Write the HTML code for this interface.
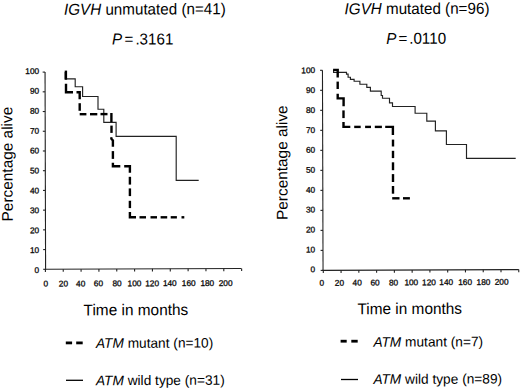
<!DOCTYPE html>
<html><head><meta charset="utf-8"><style>
html,body{margin:0;padding:0;background:#fff;}
body{width:520px;height:390px;overflow:hidden;}
svg{display:block;}
text{font-family:"Liberation Sans",sans-serif;fill:#000;}
.yl{font-size:8.3px;text-anchor:end;stroke:#111;stroke-width:0.3px;}
.xl{font-size:8.3px;text-anchor:middle;stroke:#111;stroke-width:0.3px;}
.t{font-size:15.2px;}
.lg{font-size:13.7px;}
.ax{stroke:#222;stroke-width:1.1;fill:none;}
.tk{stroke:#222;stroke-width:1.1;fill:none;}
.sol{stroke:#222;stroke-width:1.15;fill:none;stroke-linejoin:miter;}
.dsh{stroke:#000;stroke-width:2.4;fill:none;stroke-linejoin:miter;stroke-linecap:butt;}
</style></head><body>
<svg width="520" height="390" viewBox="0 0 520 390">
<text transform="translate(64,14.8) rotate(-0.2) scale(1,1.04)" class="t"><tspan font-style="italic">IGVH</tspan> unmutated (n=41)</text>
<text transform="translate(112,44.6) rotate(-0.2) scale(1,1.04)" class="t"><tspan font-style="italic">P</tspan><tspan x="12.5">=</tspan><tspan x="23.4">.3161</tspan></text>
<text transform="translate(344.6,14.2) rotate(-0.2) scale(1,1.04)" class="t"><tspan font-style="italic">IGVH</tspan> mutated (n=96)</text>
<text transform="translate(386.3,43.9) rotate(-0.2) scale(1,1.04)" class="t"><tspan font-style="italic">P</tspan><tspan x="12.3">=</tspan><tspan x="22.9">.0110</tspan></text>
<text transform="translate(12.7,221.4) rotate(-90) rotate(-0.2) scale(1,1.0)" class="t" style="font-size:15.4px">Percentage alive</text>
<text transform="translate(287.5,220.0) rotate(-90) rotate(-0.2) scale(1,1.0)" class="t" style="font-size:15.4px">Percentage alive</text>
<text transform="translate(83.6,315.4) rotate(-0.2) scale(1,1.02)" class="t" style="font-size:15.4px">Time in months</text>
<text transform="translate(357.4,314.2) rotate(-0.2) scale(1,1.02)" class="t" style="font-size:15.4px">Time in months</text>
<line x1="45.05" y1="72.1" x2="45.6" y2="269.8" class="ax"/>
<line x1="44.9" y1="269.3" x2="241.4" y2="268.5" class="ax"/>
<line x1="42.65" y1="72.10" x2="45.05" y2="72.10" class="tk"/>
<text transform="translate(39.2,73.90) rotate(-0.2)" class="yl">100</text>
<line x1="42.70" y1="91.82" x2="45.10" y2="91.82" class="tk"/>
<text transform="translate(39.2,93.81) rotate(-0.2)" class="yl">90</text>
<line x1="42.76" y1="111.54" x2="45.16" y2="111.54" class="tk"/>
<text transform="translate(39.2,113.72) rotate(-0.2)" class="yl">80</text>
<line x1="42.81" y1="131.26" x2="45.21" y2="131.26" class="tk"/>
<text transform="translate(39.2,133.63) rotate(-0.2)" class="yl">70</text>
<line x1="42.87" y1="150.98" x2="45.27" y2="150.98" class="tk"/>
<text transform="translate(39.2,153.54) rotate(-0.2)" class="yl">60</text>
<line x1="42.93" y1="170.70" x2="45.33" y2="170.70" class="tk"/>
<text transform="translate(39.2,173.45) rotate(-0.2)" class="yl">50</text>
<line x1="42.98" y1="190.42" x2="45.38" y2="190.42" class="tk"/>
<text transform="translate(39.2,193.36) rotate(-0.2)" class="yl">40</text>
<line x1="43.04" y1="210.14" x2="45.44" y2="210.14" class="tk"/>
<text transform="translate(39.2,213.27) rotate(-0.2)" class="yl">30</text>
<line x1="43.09" y1="229.86" x2="45.49" y2="229.86" class="tk"/>
<text transform="translate(39.2,233.18) rotate(-0.2)" class="yl">20</text>
<line x1="43.15" y1="249.58" x2="45.55" y2="249.58" class="tk"/>
<text transform="translate(39.2,253.09) rotate(-0.2)" class="yl">10</text>
<line x1="43.20" y1="269.30" x2="45.60" y2="269.30" class="tk"/>
<text transform="translate(39.2,273.00) rotate(-0.2)" class="yl">0</text>
<line x1="45.40" y1="269.30" x2="45.40" y2="271.90" class="tk"/>
<text transform="translate(45.80,286.50) rotate(-0.2)" class="xl">0</text>
<line x1="63.24" y1="269.23" x2="63.24" y2="271.83" class="tk"/>
<text transform="translate(63.40,286.44) rotate(-0.2)" class="xl">20</text>
<line x1="81.08" y1="269.15" x2="81.08" y2="271.75" class="tk"/>
<text transform="translate(80.70,286.38) rotate(-0.2)" class="xl">40</text>
<line x1="98.92" y1="269.08" x2="98.92" y2="271.68" class="tk"/>
<text transform="translate(98.40,286.32) rotate(-0.2)" class="xl">60</text>
<line x1="116.76" y1="269.01" x2="116.76" y2="271.61" class="tk"/>
<text transform="translate(117.10,286.26) rotate(-0.2)" class="xl">80</text>
<line x1="134.60" y1="268.94" x2="134.60" y2="271.54" class="tk"/>
<text transform="translate(134.50,286.20) rotate(-0.2)" class="xl">100</text>
<line x1="152.44" y1="268.86" x2="152.44" y2="271.46" class="tk"/>
<text transform="translate(152.10,286.14) rotate(-0.2)" class="xl">120</text>
<line x1="170.28" y1="268.79" x2="170.28" y2="271.39" class="tk"/>
<text transform="translate(169.80,286.08) rotate(-0.2)" class="xl">140</text>
<line x1="188.12" y1="268.72" x2="188.12" y2="271.32" class="tk"/>
<text transform="translate(188.70,286.02) rotate(-0.2)" class="xl">160</text>
<line x1="205.96" y1="268.64" x2="205.96" y2="271.24" class="tk"/>
<text transform="translate(207.30,285.96) rotate(-0.2)" class="xl">180</text>
<line x1="223.80" y1="268.57" x2="223.80" y2="271.17" class="tk"/>
<text transform="translate(225.60,285.90) rotate(-0.2)" class="xl">200</text>
<line x1="241.64" y1="268.50" x2="241.64" y2="271.10" class="tk"/>
<line x1="322.45" y1="70.3" x2="323.05" y2="270.9" class="ax"/>
<line x1="322.3" y1="270.4" x2="518.8" y2="269.6" class="ax"/>
<line x1="320.05" y1="70.30" x2="322.45" y2="70.30" class="tk"/>
<text transform="translate(315.2,73.10) rotate(-0.2)" class="yl">100</text>
<line x1="320.11" y1="90.31" x2="322.51" y2="90.31" class="tk"/>
<text transform="translate(315.2,93.02) rotate(-0.2)" class="yl">90</text>
<line x1="320.17" y1="110.32" x2="322.57" y2="110.32" class="tk"/>
<text transform="translate(315.2,112.94) rotate(-0.2)" class="yl">80</text>
<line x1="320.23" y1="130.33" x2="322.63" y2="130.33" class="tk"/>
<text transform="translate(315.2,132.86) rotate(-0.2)" class="yl">70</text>
<line x1="320.29" y1="150.34" x2="322.69" y2="150.34" class="tk"/>
<text transform="translate(315.2,152.78) rotate(-0.2)" class="yl">60</text>
<line x1="320.35" y1="170.35" x2="322.75" y2="170.35" class="tk"/>
<text transform="translate(315.2,172.70) rotate(-0.2)" class="yl">50</text>
<line x1="320.41" y1="190.36" x2="322.81" y2="190.36" class="tk"/>
<text transform="translate(315.2,192.62) rotate(-0.2)" class="yl">40</text>
<line x1="320.47" y1="210.37" x2="322.87" y2="210.37" class="tk"/>
<text transform="translate(315.2,212.54) rotate(-0.2)" class="yl">30</text>
<line x1="320.53" y1="230.38" x2="322.93" y2="230.38" class="tk"/>
<text transform="translate(315.2,232.46) rotate(-0.2)" class="yl">20</text>
<line x1="320.59" y1="250.39" x2="322.99" y2="250.39" class="tk"/>
<text transform="translate(315.2,252.38) rotate(-0.2)" class="yl">10</text>
<line x1="320.65" y1="270.40" x2="323.05" y2="270.40" class="tk"/>
<text transform="translate(315.2,272.30) rotate(-0.2)" class="yl">0</text>
<line x1="323.30" y1="270.40" x2="323.30" y2="273.00" class="tk"/>
<text transform="translate(321.80,285.80) rotate(-0.2)" class="xl">0</text>
<line x1="341.07" y1="270.33" x2="341.07" y2="272.93" class="tk"/>
<text transform="translate(339.40,285.70) rotate(-0.2)" class="xl">20</text>
<line x1="358.84" y1="270.25" x2="358.84" y2="272.85" class="tk"/>
<text transform="translate(357.20,285.60) rotate(-0.2)" class="xl">40</text>
<line x1="376.61" y1="270.18" x2="376.61" y2="272.78" class="tk"/>
<text transform="translate(375.00,285.50) rotate(-0.2)" class="xl">60</text>
<line x1="394.38" y1="270.11" x2="394.38" y2="272.71" class="tk"/>
<text transform="translate(393.50,285.40) rotate(-0.2)" class="xl">80</text>
<line x1="412.15" y1="270.04" x2="412.15" y2="272.64" class="tk"/>
<text transform="translate(411.30,285.30) rotate(-0.2)" class="xl">100</text>
<line x1="429.92" y1="269.96" x2="429.92" y2="272.56" class="tk"/>
<text transform="translate(429.00,285.20) rotate(-0.2)" class="xl">120</text>
<line x1="447.69" y1="269.89" x2="447.69" y2="272.49" class="tk"/>
<text transform="translate(446.20,285.10) rotate(-0.2)" class="xl">140</text>
<line x1="465.46" y1="269.82" x2="465.46" y2="272.42" class="tk"/>
<text transform="translate(465.10,285.00) rotate(-0.2)" class="xl">160</text>
<line x1="483.23" y1="269.75" x2="483.23" y2="272.35" class="tk"/>
<text transform="translate(483.50,284.90) rotate(-0.2)" class="xl">180</text>
<line x1="501.00" y1="269.67" x2="501.00" y2="272.27" class="tk"/>
<text transform="translate(501.60,284.80) rotate(-0.2)" class="xl">200</text>
<line x1="518.77" y1="269.60" x2="518.77" y2="272.20" class="tk"/>
<path d="M65.2,72 V78.8 H75.2 V86.7 H82.6 V96.5 H98.0 V109.2 H103.8 V122.3 H116.1 V136.3 H176.2 V180.3 H198.7" class="sol"/>
<path d="M333.6,70 V72.3 H346.5 V74.1 H348.1 V77.2 H350.4 V79.3 H354.1 V81.2 H359.9 V84.2 H366.8 V87.3 H370.4 V91.1 H381.2 V95.5 H382.5 V98.2 H389.5 V102.8 H392.5 V106.5 H415.1 V113.2 H426.8 V121.1 H435.4 V130.8 H446.4 V144.5 H466.5 V158.4 H515.7" class="sol"/>
<polyline points="65.90,70.60 65.90,79.70" class="dsh"/>
<polyline points="66.00,83.80 66.00,92.30 73.00,92.30" class="dsh"/>
<polyline points="76.50,92.30 79.70,92.30 79.70,99.20" class="dsh"/>
<polyline points="79.70,103.20 79.70,110.80" class="dsh"/>
<polyline points="79.70,114.20 86.40,114.20" class="dsh"/>
<polyline points="90.00,114.20 97.30,114.20" class="dsh"/>
<polyline points="100.50,114.10 107.50,114.10" class="dsh"/>
<polyline points="111.40,113.00 111.40,122.10" class="dsh"/>
<polyline points="111.50,125.60 111.50,132.90" class="dsh"/>
<polyline points="111.12,137.21 111.50,139.00 112.90,140.50 112.90,146.70" class="dsh"/>
<polyline points="112.90,151.10 112.90,158.90" class="dsh"/>
<polyline points="112.90,162.70 112.90,166.20 120.30,166.20" class="dsh"/>
<polyline points="124.20,166.20 129.90,166.20 129.90,172.70" class="dsh"/>
<polyline points="129.90,176.80 129.90,184.60" class="dsh"/>
<polyline points="129.90,188.40 129.90,196.10" class="dsh"/>
<polyline points="129.90,200.80 129.90,208.10" class="dsh"/>
<polyline points="129.90,211.90 129.90,217.30 136.00,217.30" class="dsh"/>
<polyline points="139.50,217.30 146.00,217.30" class="dsh"/>
<polyline points="150.50,217.30 157.00,217.30" class="dsh"/>
<polyline points="160.60,217.30 167.20,217.30" class="dsh"/>
<polyline points="170.70,217.30 176.90,217.30" class="dsh"/>
<polyline points="181.50,217.30 184.30,217.30" class="dsh"/>
<polyline points="333.10,69.90 337.70,69.90 337.70,77.50" class="dsh"/>
<polyline points="337.70,81.60 337.70,89.00" class="dsh"/>
<polyline points="337.70,93.80 337.70,98.40 343.60,98.40 343.60,106.30" class="dsh"/>
<polyline points="343.50,110.40 343.50,118.10" class="dsh"/>
<polyline points="343.50,122.10 343.50,126.90 350.30,126.90" class="dsh"/>
<polyline points="354.20,126.90 360.70,126.90" class="dsh"/>
<polyline points="365.10,126.90 371.00,126.90" class="dsh"/>
<polyline points="374.80,126.90 381.90,126.90" class="dsh"/>
<polyline points="385.20,126.90 392.90,126.90 392.90,135.00" class="dsh"/>
<polyline points="393.00,139.60 393.00,146.50" class="dsh"/>
<polyline points="393.00,150.80 393.00,158.10" class="dsh"/>
<polyline points="393.00,162.30 393.00,170.20" class="dsh"/>
<polyline points="393.00,174.10 393.00,182.00" class="dsh"/>
<polyline points="393.00,186.00 393.00,193.70" class="dsh"/>
<polyline points="392.20,198.30 399.50,198.30" class="dsh"/>
<polyline points="403.00,198.30 409.90,198.30" class="dsh"/>
<line x1="65.8" y1="342.9" x2="72.1" y2="342.9" stroke="#000" stroke-width="2.8"/>
<line x1="76.2" y1="342.9" x2="82.7" y2="342.9" stroke="#000" stroke-width="2.8"/>
<line x1="66" y1="380.3" x2="83" y2="380.3" stroke="#000" stroke-width="1.3"/>
<text transform="translate(96,347.9) rotate(-0.2) scale(1,1.0)" class="lg"><tspan font-style="italic">ATM</tspan> mutant (n=10)</text>
<text transform="translate(96,385.2) rotate(-0.2) scale(1,1.0)" class="lg"><tspan font-style="italic">ATM</tspan> wild type (n=31)</text>
<line x1="340.6" y1="341.2" x2="346.7" y2="341.2" stroke="#000" stroke-width="2.8"/>
<line x1="351.3" y1="341.2" x2="357.7" y2="341.2" stroke="#000" stroke-width="2.8"/>
<line x1="341" y1="379.5" x2="358" y2="379.5" stroke="#000" stroke-width="1.3"/>
<text transform="translate(373.4,346.7) rotate(-0.2) scale(1,1.0)" class="lg"><tspan font-style="italic">ATM</tspan> mutant (n=7)</text>
<text transform="translate(373.4,383.9) rotate(-0.2) scale(1,1.0)" class="lg"><tspan font-style="italic">ATM</tspan> wild type (n=89)</text>
</svg>
</body></html>
